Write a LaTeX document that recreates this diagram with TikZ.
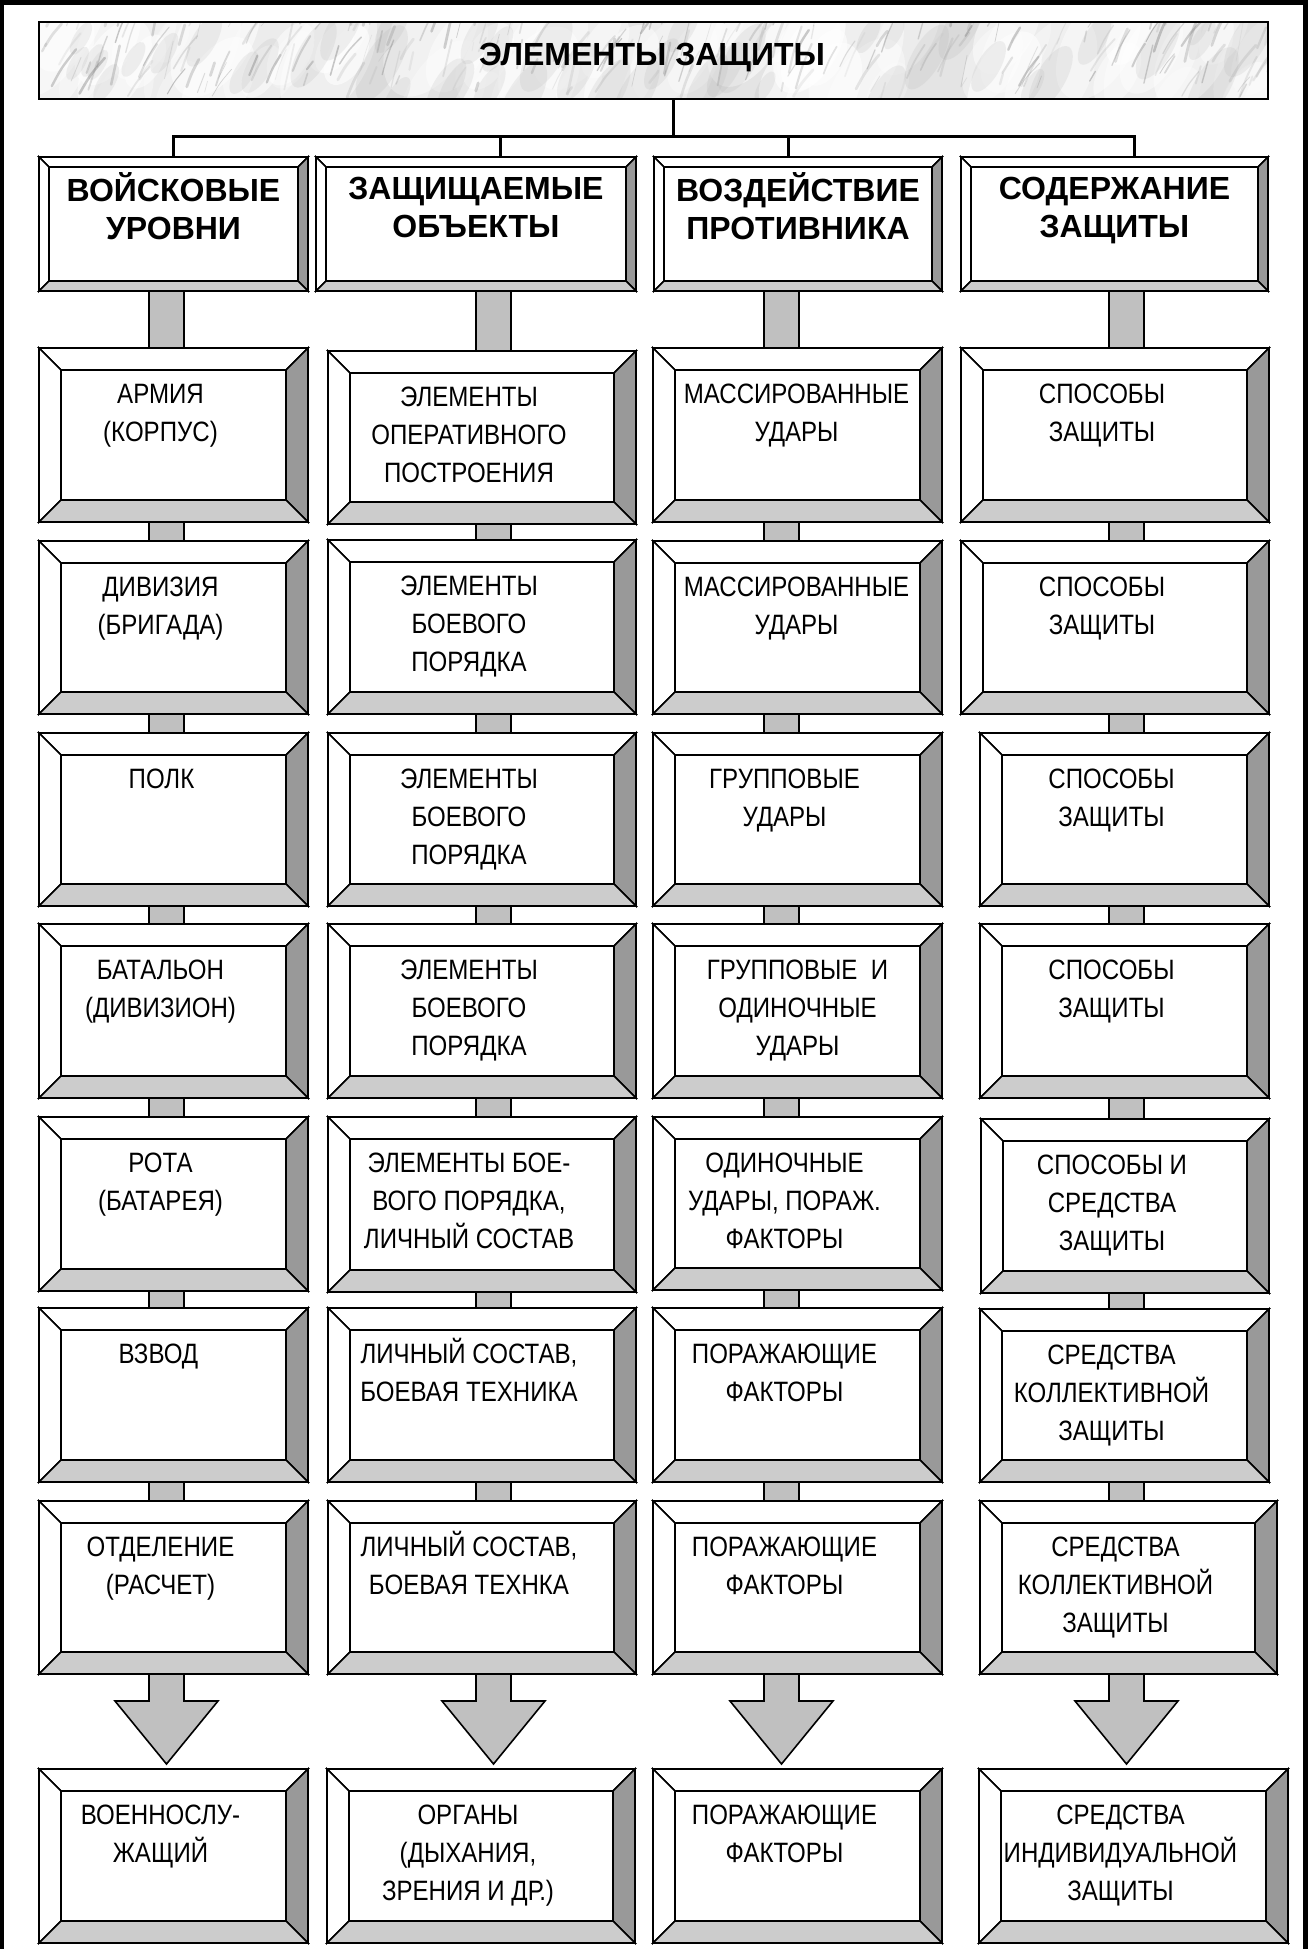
\documentclass[tikz,border=0pt]{standalone}
\usepackage{fontspec}
\setmainfont{Liberation Sans}
\newfontfamily\narrowf[FakeStretch=0.86]{Liberation Sans}
\usetikzlibrary{calc}
\definecolor{bevR}{HTML}{999999}
\definecolor{bevB}{HTML}{CCCCCC}
\definecolor{barc}{HTML}{C0C0C0}
\definecolor{marble}{HTML}{E4E4E4}
\tikzset{
  boxshape/.style={rectangle, draw=black, line width=1.6pt, inner sep=0pt, outer sep=0pt, fill=white},
  bevline/.style={draw=black, line width=1.6pt, line join=miter},
  bodytxt/.style={inner sep=0pt, outer sep=0pt, align=center, font=\narrowf\fontsize{28}{38}\selectfont},
  headtxt/.style={inner sep=0pt, outer sep=0pt, align=center, font=\bfseries\fontsize{32}{38}\selectfont},
  conn/.style={line width=3pt, line join=miter},
  barstyle/.style={fill=barc, draw=black, line width=1.6pt, line join=miter},
}
% bevelled box: name, x1, y1, x2, y2, bevel
\newcommand\bevbox[6]{%
  \node[boxshape, minimum width={(#4)-(#2)}, minimum height={(#5)-(#3)}] (#1) at ({((#2)+(#4))/2},{((#3)+(#5))/2}) {};
  \path[bevline, fill=white] (#1.north west) -- (#1.north east) -- ($(#1.north east)+(-#6,#6)$) -- ($(#1.north west)+(#6,#6)$) -- cycle;
  \path[bevline, fill=white] (#1.north west) -- ($(#1.north west)+(#6,#6)$) -- ($(#1.south west)+(#6,-#6)$) -- (#1.south west) -- cycle;
  \path[bevline, fill=bevR] (#1.north east) -- (#1.south east) -- ($(#1.south east)+(-#6,-#6)$) -- ($(#1.north east)+(-#6,#6)$) -- cycle;
  \path[bevline, fill=bevB] (#1.south west) -- (#1.south east) -- ($(#1.south east)+(-#6,-#6)$) -- ($(#1.south west)+(#6,-#6)$) -- cycle;
}
% body text: name, box, dx, text
\newcommand\btext[4]{%
  \node[bodytxt, anchor=north] (#1) at ($(#2.north)+(#3,28.4)$) {\strut #4};
}
\newcommand\htext[3]{%
  \node[headtxt, anchor=north] (#1) at ($(#2.north)+(0,15.4)$) {\strut #3};
}
\newcommand\vbar[3]{%
  \draw[barstyle] ($(#1.south -| #3)+(-17.5,0)$) rectangle ($(#2.north -| #3)+(17.5,0)$);
}
\newcommand\barrow[3]{%
  \draw[barstyle] ($(#1.south -| #3)+(-17.5,0)$) -- ++(0,27) -- ++(-34,0)
    -- ($(#2.north -| #3)+(0,-5)$) -- ($(#1.south -| #3)+(51.5,27)$) -- ++(-34,0)
    -- ($(#1.south -| #3)+(17.5,0)$) -- cycle;
}
\begin{document}
\begin{tikzpicture}[x=1pt, y=-1pt]
\useasboundingbox (0,0) rectangle (1308,1949);
\fill[white] (0,0) rectangle (1308,1949);
% outer frame
\fill[black] (0,0) rectangle (1308,5);
\fill[black] (0,0) rectangle (3.5,1949);
\fill[black] (1303,0) rectangle (1308,1949);

% title with marble texture
\node[boxshape, fill=marble, minimum width=1229, minimum height=77] (title) at (653.5,60.5) {};
\begin{scope}
  \clip (title.north west) rectangle (title.south east);
  \pgfmathsetseed{42}
  \foreach \i in {1,...,70} {
    \pgfmathsetmacro\xa{39+rnd*1229}
    \pgfmathsetmacro\ya{22+rnd*77}
    \pgfmathsetmacro\rr{14+rnd*26}
    \pgfmathsetmacro\op{0.25+rnd*0.35}
    \fill[white, opacity=\op, rotate around={60:(\xa,\ya)}] (\xa,\ya) ellipse ({\rr*1.8} and \rr);
  }
  \foreach \i in {1,...,45} {
    \pgfmathsetmacro\xa{39+rnd*1229}
    \pgfmathsetmacro\ya{22+rnd*77}
    \pgfmathsetmacro\rr{6+rnd*12}
    \fill[black!30, opacity=0.18, rotate around={60:(\xa,\ya)}] (\xa,\ya) ellipse ({\rr*2.5} and \rr);
  }
  \foreach \i in {1,...,220} {
    \pgfmathsetmacro\xa{39+rnd*1229}
    \pgfmathsetmacro\ya{22+rnd*77}
    \pgfmathsetmacro\len{8+rnd*40}
    \pgfmathsetmacro\ang{50+rnd*30}
    \pgfmathtruncatemacro\gr{25+rnd*35}
    \pgfmathsetmacro\op{0.12+rnd*0.3}
    \pgfmathsetmacro\lw{0.6+rnd*2.2}
    \draw[line width=\lw pt, black!\gr, opacity=\op, line cap=round]
      (\xa,\ya) .. controls ++({\len*0.4*cos(\ang)},{-\len*0.5*sin(\ang)}) .. ++({\len*cos(\ang)},{-\len*sin(\ang)});
  }
\end{scope}
\draw[line width=1.6pt] (title.north west) rectangle (title.south east);
\node[headtxt, anchor=base] (ttl) at (652,65.5) {ЭЛЕМЕНТЫ ЗАЩИТЫ};

% bar column positions
\coordinate (c1) at (166.5,0);
\coordinate (c2) at (493.5,0);
\coordinate (c3) at (781.5,0);
\coordinate (c4) at (1126.5,0);

% header boxes
\bevbox{h1}{39}{157}{308}{291}{10}
\bevbox{h2}{316}{157}{636}{291}{10}
\bevbox{h3}{654}{157}{942}{291}{10}
\bevbox{h4}{961}{157}{1268}{291}{10}
\htext{th1}{h1}{ВОЙСКОВЫЕ\\УРОВНИ}
\htext{th2}{h2}{ЗАЩИЩАЕМЫЕ\\ОБЪЕКТЫ}
\htext{th3}{h3}{ВОЗДЕЙСТВИЕ\\ПРОТИВНИКА}
\htext{th4}{h4}{СОДЕРЖАНИЕ\\ЗАЩИТЫ}

% tree connectors
\coordinate (jn) at (673,136);
\coordinate (d1) at (173,136);
\coordinate (d2) at (500,136);
\coordinate (d3) at (788,136);
\coordinate (d4) at (1134,136);
\draw[conn] (title.south -| jn) -- (jn);
\draw[conn] (h1.north -| d1) -- (d1) -- (d4) -- (h4.north -| d4);
\draw[conn] (d2) -- (h2.north -| d2);
\draw[conn] (d3) -- (h3.north -| d3);

% column 1 boxes
\bevbox{b11}{39}{348}{308}{522}{22}
\bevbox{b12}{39}{541}{308}{714}{22}
\bevbox{b13}{39}{733}{308}{906}{22}
\bevbox{b14}{39}{924}{308}{1098}{22}
\bevbox{b15}{39}{1117}{308}{1291}{22}
\bevbox{b16}{39}{1308}{308}{1482}{22}
\bevbox{b17}{39}{1501}{308}{1674}{22}
\bevbox{b18}{39}{1769}{308}{1943}{22}
% column 2 boxes
\bevbox{b21}{328}{351}{636}{524}{22}
\bevbox{b22}{328}{540}{636}{714}{22}
\bevbox{b23}{328}{733}{636}{906}{22}
\bevbox{b24}{328}{924}{636}{1098}{22}
\bevbox{b25}{328}{1117}{636}{1292}{22}
\bevbox{b26}{328}{1308}{636}{1482}{22}
\bevbox{b27}{328}{1501}{636}{1674}{22}
\bevbox{b28}{327}{1769}{635}{1943}{22}
% column 3 boxes
\bevbox{b31}{653}{348}{942}{522}{22}
\bevbox{b32}{653}{541}{942}{714}{22}
\bevbox{b33}{653}{733}{942}{906}{22}
\bevbox{b34}{653}{924}{942}{1098}{22}
\bevbox{b35}{653}{1117}{942}{1290}{22}
\bevbox{b36}{653}{1308}{942}{1482}{22}
\bevbox{b37}{653}{1501}{942}{1674}{22}
\bevbox{b38}{653}{1769}{942}{1943}{22}
% column 4 boxes
\bevbox{b41}{961}{348}{1269}{522}{22}
\bevbox{b42}{961}{541}{1269}{714}{22}
\bevbox{b43}{980}{733}{1269}{906}{22}
\bevbox{b44}{980}{924}{1269}{1098}{22}
\bevbox{b45}{981}{1119}{1269}{1293}{22}
\bevbox{b46}{980}{1309}{1269}{1482}{22}
\bevbox{b47}{980}{1501}{1277}{1674}{22}
\bevbox{b48}{979}{1769}{1288}{1943}{22}

% grey bars between boxes
\vbar{h1}{b11}{c1}\vbar{b11}{b12}{c1}\vbar{b12}{b13}{c1}\vbar{b13}{b14}{c1}
\vbar{b14}{b15}{c1}\vbar{b15}{b16}{c1}\vbar{b16}{b17}{c1}
\vbar{h2}{b21}{c2}\vbar{b21}{b22}{c2}\vbar{b22}{b23}{c2}\vbar{b23}{b24}{c2}
\vbar{b24}{b25}{c2}\vbar{b25}{b26}{c2}\vbar{b26}{b27}{c2}
\vbar{h3}{b31}{c3}\vbar{b31}{b32}{c3}\vbar{b32}{b33}{c3}\vbar{b33}{b34}{c3}
\vbar{b34}{b35}{c3}\vbar{b35}{b36}{c3}\vbar{b36}{b37}{c3}
\vbar{h4}{b41}{c4}\vbar{b41}{b42}{c4}\vbar{b42}{b43}{c4}\vbar{b43}{b44}{c4}
\vbar{b44}{b45}{c4}\vbar{b45}{b46}{c4}\vbar{b46}{b47}{c4}
% block arrows
\barrow{b17}{b18}{c1}
\barrow{b27}{b28}{c2}
\barrow{b37}{b38}{c3}
\barrow{b47}{b48}{c4}

% texts column 1
\btext{t11}{b11}{-13}{АРМИЯ\\(КОРПУС)}
\btext{t12}{b12}{-13}{ДИВИЗИЯ\\(БРИГАДА)}
\btext{t13}{b13}{-12}{ПОЛК}
\btext{t14}{b14}{-13}{БАТАЛЬОН\\(ДИВИЗИОН)}
\btext{t15}{b15}{-13}{РОТА\\(БАТАРЕЯ)}
\btext{t16}{b16}{-15}{ВЗВОД}
\btext{t17}{b17}{-13}{ОТДЕЛЕНИЕ\\(РАСЧЕТ)}
\btext{t18}{b18}{-13}{ВОЕННОСЛУ-\\ЖАЩИЙ}
% texts column 2
\btext{t21}{b21}{-13}{ЭЛЕМЕНТЫ\\ОПЕРАТИВНОГО\\ПОСТРОЕНИЯ}
\btext{t22}{b22}{-13}{ЭЛЕМЕНТЫ\\БОЕВОГО\\ПОРЯДКА}
\btext{t23}{b23}{-13}{ЭЛЕМЕНТЫ\\БОЕВОГО\\ПОРЯДКА}
\btext{t24}{b24}{-13}{ЭЛЕМЕНТЫ\\БОЕВОГО\\ПОРЯДКА}
\btext{t25}{b25}{-13}{ЭЛЕМЕНТЫ БОЕ-\\ВОГО ПОРЯДКА,\\ЛИЧНЫЙ СОСТАВ}
\btext{t26}{b26}{-13}{ЛИЧНЫЙ СОСТАВ,\\БОЕВАЯ ТЕХНИКА}
\btext{t27}{b27}{-13}{ЛИЧНЫЙ СОСТАВ,\\БОЕВАЯ ТЕХНКА}
\btext{t28}{b28}{-13}{ОРГАНЫ\\(ДЫХАНИЯ,\\ЗРЕНИЯ И ДР.)}
% texts column 3
\btext{t31}{b31}{-1}{МАССИРОВАННЫЕ\\УДАРЫ}
\btext{t32}{b32}{-1}{МАССИРОВАННЫЕ\\УДАРЫ}
\btext{t33}{b33}{-13}{ГРУППОВЫЕ\\УДАРЫ}
\btext{t34}{b34}{0}{ГРУППОВЫЕ~~И\\ОДИНОЧНЫЕ\\УДАРЫ}
\btext{t35}{b35}{-13}{ОДИНОЧНЫЕ\\УДАРЫ, ПОРАЖ.\\ФАКТОРЫ}
\btext{t36}{b36}{-13}{ПОРАЖАЮЩИЕ\\ФАКТОРЫ}
\btext{t37}{b37}{-13}{ПОРАЖАЮЩИЕ\\ФАКТОРЫ}
\btext{t38}{b38}{-13}{ПОРАЖАЮЩИЕ\\ФАКТОРЫ}
% texts column 4
\btext{t41}{b41}{-13}{СПОСОБЫ\\ЗАЩИТЫ}
\btext{t42}{b42}{-13}{СПОСОБЫ\\ЗАЩИТЫ}
\btext{t43}{b43}{-13}{СПОСОБЫ\\ЗАЩИТЫ}
\btext{t44}{b44}{-13}{СПОСОБЫ\\ЗАЩИТЫ}
\btext{t45}{b45}{-13}{СПОСОБЫ И\\СРЕДСТВА\\ЗАЩИТЫ}
\btext{t46}{b46}{-13}{СРЕДСТВА\\КОЛЛЕКТИВНОЙ\\ЗАЩИТЫ}
\btext{t47}{b47}{-13}{СРЕДСТВА\\КОЛЛЕКТИВНОЙ\\ЗАЩИТЫ}
\btext{t48}{b48}{-13}{СРЕДСТВА\\ИНДИВИДУАЛЬНОЙ\\ЗАЩИТЫ}
\end{tikzpicture}
\end{document}
